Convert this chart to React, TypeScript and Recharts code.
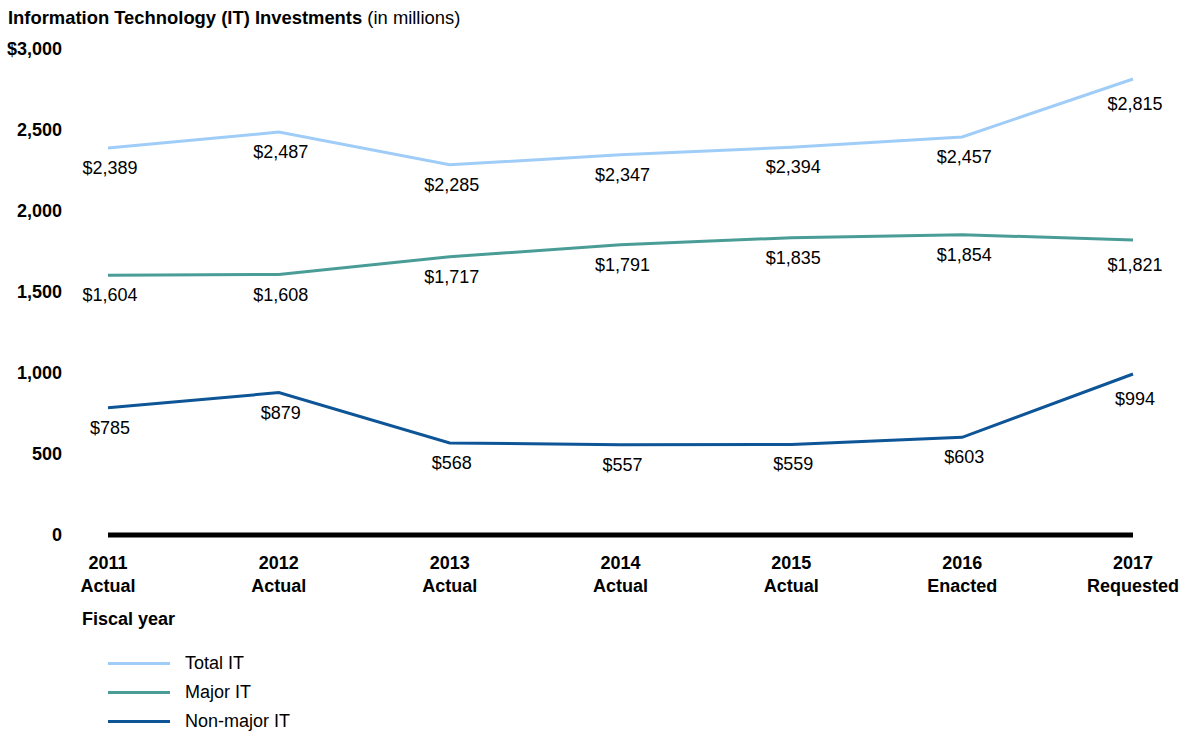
import React from 'react'
import { LineChart, Line, XAxis, YAxis, LabelList } from 'recharts'

const years = ['2011', '2012', '2013', '2014', '2015', '2016', '2017']
const stages = ['Actual', 'Actual', 'Actual', 'Actual', 'Actual', 'Enacted', 'Requested']
const totalIT = [2389, 2487, 2285, 2347, 2394, 2457, 2815]
const majorIT = [1604, 1608, 1717, 1791, 1835, 1854, 1821]
const nonMajorIT = [785, 879, 568, 557, 559, 603, 994]
const yTicks = [0, 500, 1000, 1500, 2000, 2500, 3000]

const series = [
  { key: 'total', name: 'Total IT', color: '#9fcdf7' },
  { key: 'major', name: 'Major IT', color: '#4a9d97' },
  { key: 'nonMajor', name: 'Non-major IT', color: '#0d5596' },
]

const data = years.map((y, i) => ({
  year: y,
  stage: stages[i],
  total: totalIT[i],
  major: majorIT[i],
  nonMajor: nonMajorIT[i],
}))

const FONT = 'Liberation Sans, Arial, sans-serif'

function fmtMoney(v: number) {
  return '$' + v.toLocaleString('en-US')
}

function YTick({ y, payload }: any) {
  const v = payload.value
  const text = v === 3000 ? fmtMoney(v) : v.toLocaleString('en-US')
  return (
    <text x={62} y={y} dy={6} textAnchor="end" fontSize={18} fontWeight={700} fill="#000" fontFamily={FONT}>
      {text}
    </text>
  )
}

function XTick({ x, y, payload, index }: any) {
  return (
    <text x={x} textAnchor="middle" fontSize={18} fontWeight={700} fill="#000" fontFamily={FONT}>
      <tspan x={x} y={y + 26}>{payload.value}</tspan>
      <tspan x={x} y={y + 49}>{stages[index]}</tspan>
    </text>
  )
}

function ValueLabel({ x, y, value, index }: any) {
  // last point's label sits a little lower in the original
  const dy = index === years.length - 1 ? 31 : 26
  return (
    <text x={x + 2} y={y + dy} textAnchor="middle" fontSize={18} fill="#000" fontFamily={FONT}>
      {fmtMoney(value)}
    </text>
  )
}

export default function App() {
  return (
    <div style={{ position: 'absolute', left: 0, top: 0, width: 1184, height: 737, background: '#fff', fontFamily: FONT }}>
      <div style={{ position: 'absolute', left: 8, top: 7, fontSize: 18.4, color: '#000', whiteSpace: 'nowrap' }}>
        <b>Information Technology (IT) Investments</b> (in millions)
      </div>
      <div style={{ position: 'absolute', left: 82, top: 609, fontSize: 18, fontWeight: 700 }}>Fiscal year</div>
      <div style={{ position: 'absolute', left: 108, top: 649, fontSize: 18 }}>
        {series.map((s) => (
          <div key={s.key} style={{ display: 'flex', alignItems: 'center', height: 29 }}>
            <div style={{ width: 62, height: 3, background: s.color, marginRight: 15 }} />
            <span>{s.name}</span>
          </div>
        ))}
      </div>
      <LineChart width={1184} height={737} data={data} margin={{ top: 49, right: 51, left: 8, bottom: 142 }}>
        <XAxis
          dataKey="year"
          axisLine={{ stroke: '#000', strokeWidth: 5 }}
          tickLine={false}
          tick={<XTick />}
          height={60}
          interval={0}
          padding={{ left: 0, right: 0 }}
        />
        <YAxis
          domain={[0, 3000]}
          ticks={yTicks}
          width={100}
          axisLine={false}
          tickLine={false}
          tick={<YTick />}
          interval={0}
        />
        {series.map((s) => (
          <Line
            key={s.key}
            type="linear"
            dataKey={s.key}
            name={s.name}
            stroke={s.color}
            strokeWidth={3}
            dot={false}
            isAnimationActive={false}
          >
            <LabelList dataKey={s.key} content={<ValueLabel />} />
          </Line>
        ))}
      </LineChart>
    </div>
  )
}
